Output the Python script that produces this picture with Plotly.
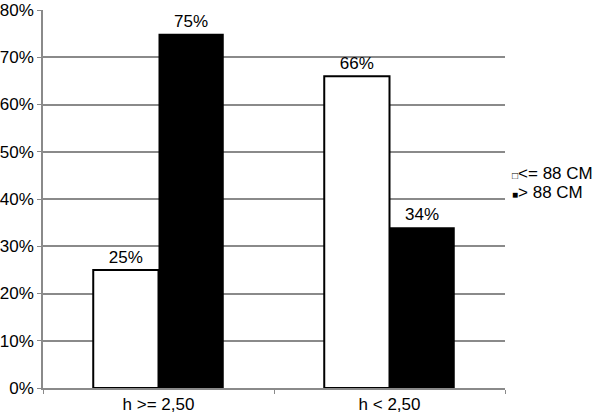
import plotly.graph_objects as go

categories = ["h >= 2,50", "h < 2,50"]
series_names = ["<= 88 CM", "> 88 CM"]
values_le88 = [0.25, 0.66]
values_gt88 = [0.75, 0.34]
y_ticks = [0, 0.1, 0.2, 0.3, 0.4, 0.5, 0.6, 0.7, 0.8]

FONT = "Liberation Sans, Arial, Helvetica, sans-serif"
GRAY = "#8a8a8a"
FS = 17

fig = go.Figure()
fig.add_trace(go.Bar(
    x=categories, y=values_le88, name=series_names[0],
    marker=dict(color="white", line=dict(color="black", width=2)),
    text=[f"{v:.0%}" for v in values_le88], textposition="outside",
    textfont=dict(size=FS, color="black", family=FONT), cliponaxis=False,
    showlegend=False,
))
fig.add_trace(go.Bar(
    x=categories, y=values_gt88, name=series_names[1],
    marker=dict(color="black", line=dict(color="black", width=0)),
    text=[f"{v:.0%}" for v in values_gt88], textposition="outside",
    textfont=dict(size=FS, color="black", family=FONT), cliponaxis=False,
    showlegend=False,
))

fig.update_layout(
    width=600, height=414,
    margin=dict(l=43, r=95, t=10, b=26),
    paper_bgcolor="white", plot_bgcolor="white",
    barmode="group", bargap=0.435, bargroupgap=0,
    font=dict(family=FONT, size=FS, color="black"),
    showlegend=False,
    xaxis=dict(
        automargin=False,
        showline=True, linecolor=GRAY, linewidth=1.5,
        ticks="outside", tickson="boundaries", ticklen=4, tickcolor=GRAY,
        showgrid=False, tickfont=dict(size=FS, family=FONT),
    ),
    yaxis=dict(
        automargin=False,
        range=[0, 0.8], tickvals=y_ticks, tickformat=".0%",
        showline=True, linecolor=GRAY, linewidth=1.5,
        ticks="outside", ticklen=4, tickcolor=GRAY,
        showgrid=True, gridcolor=GRAY, gridwidth=1.5,
        zeroline=False, tickfont=dict(size=FS, family=FONT),
    ),
)

legend_marks = ["□", "■"]
for i, (mark, name) in enumerate(zip(legend_marks, series_names)):
    fig.add_annotation(
        xref="paper", yref="paper", x=1.0, y=0.567 - i * 0.05,
        xanchor="left", yanchor="middle", xshift=5, showarrow=False,
        text=f'<span style="font-size:10px">{mark}</span>{name}',
        font=dict(size=FS, family=FONT, color="black"),
    )

fig.write_html(
    "out.html",
    config={"displayModeBar": False},
    post_script="document.body.style.margin='0';document.body.style.overflow='hidden';",
)
